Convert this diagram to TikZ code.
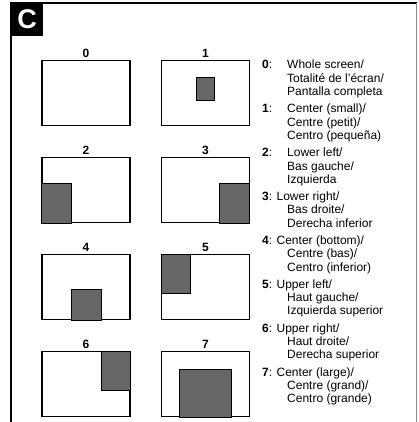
\documentclass[tikz,border=0pt]{standalone}
\usepackage{fontspec}
\setmainfont{Liberation Sans}
\usetikzlibrary{positioning}

\begin{document}
\begin{tikzpicture}[
  x=1pt, y=-1pt,
  font=\fontsize{12}{13.3}\selectfont,
  node distance=1pt,
  screen/.style={draw, line width=1.4pt, minimum width=88pt, minimum height=65.5pt, inner sep=0pt},
  win/.style={draw, line width=0.9pt, fill=black!60, inner sep=0pt},
  num/.style={font=\fontsize{12}{13.3}\selectfont\bfseries, inner sep=0pt},
  legend/.style={anchor=base west, align=left, inner sep=0pt}
]
\useasboundingbox (0,0) rectangle (418,422);
% frame and panel letter
\draw[line width=1.3pt] (11,422) -- (11,3) -- (416.5,3);
\draw[line width=1.1pt, black!45] (416.5,3) -- (416.5,422);
\node[fill=black, text=white, anchor=north west, minimum width=32pt, minimum height=33pt, inner sep=0pt,
  font=\fontsize{27}{27}\selectfont\bfseries] (panel) at (11,3) {C};

% screens
\node[screen] (s0) at (86,93) {};
\node[screen] (s1) at (205.5,93) {};
\node[screen] (s2) at (86,190) {};
\node[screen] (s3) at (205.5,190) {};
\node[screen] (s4) at (86,287) {};
\node[screen] (s5) at (205.5,287) {};
\node[screen] (s6) at (86,384) {};
\node[screen] (s7) at (205.5,384) {};
\foreach \i in {0,...,7}
  \node[num, above=1.5pt of s\i] (n\i) {\i};

% picture windows
\node[win, minimum width=18pt, minimum height=23pt] (w1) at ([yshift=4.5pt]s1.center) {};
\node[win, minimum width=30pt, minimum height=40pt, anchor=south west] (w2) at (s2.south west) {};
\node[win, minimum width=30pt, minimum height=40pt, anchor=south east] (w3) at (s3.south east) {};
\node[win, minimum width=30pt, minimum height=31pt, anchor=south] (w4) at (s4.south) {};
\node[win, minimum width=29pt, minimum height=39pt, anchor=north west] (w5) at (s5.north west) {};
\node[win, minimum width=29pt, minimum height=39pt, anchor=north east] (w6) at (s6.north east) {};
\node[win, minimum width=52pt, minimum height=48pt, anchor=south] (w7) at (s7.south) {};

% legend (base = last line)
\node[legend] (l0) at (262,95.6) {\makebox[25pt][l]{\textbf{0}:}Whole screen/\\\hspace*{25pt}Totalité de l'écran/\\\hspace*{25pt}Pantalla completa};
\node[legend] (l1) at (262,139.5) {\makebox[25pt][l]{\textbf{1}:}Center (small)/\\\hspace*{25pt}Centre (petit)/\\\hspace*{25pt}Centro (pequeña)};
\node[legend] (l2) at (262,183.3) {\makebox[25pt][l]{\textbf{2}:}Lower left/\\\hspace*{25pt}Bas gauche/\\\hspace*{25pt}Izquierda};
\node[legend] (l3) at (262,227.2) {\textbf{3}: Lower right/\\\hspace*{25pt}Bas droite/\\\hspace*{25pt}Derecha inferior};
\node[legend] (l4) at (262,271) {\textbf{4}: Center (bottom)/\\\hspace*{25pt}Centre (bas)/\\\hspace*{25pt}Centro (inferior)};
\node[legend] (l5) at (262,314.9) {\textbf{5}: Upper left/\\\hspace*{25pt}Haut gauche/\\\hspace*{25pt}Izquierda superior};
\node[legend] (l6) at (262,358.7) {\textbf{6}: Upper right/\\\hspace*{25pt}Haut droite/\\\hspace*{25pt}Derecha superior};
\node[legend] (l7) at (262,402.6) {\textbf{7}: Center (large)/\\\hspace*{25pt}Centre (grand)/\\\hspace*{25pt}Centro (grande)};
\end{tikzpicture}
\end{document}
